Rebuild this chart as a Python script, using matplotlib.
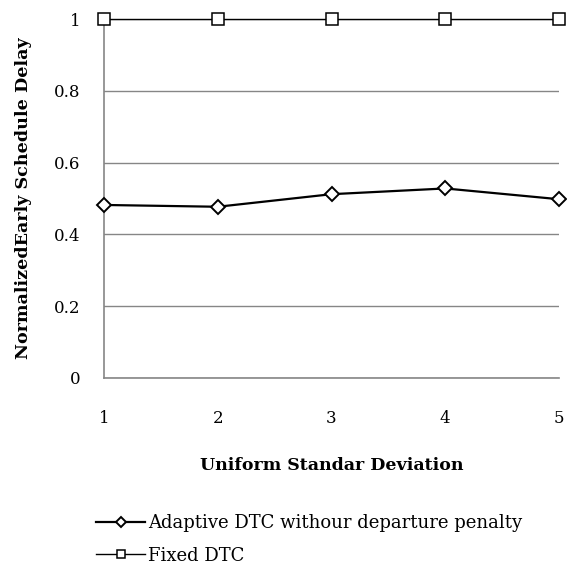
import matplotlib.pyplot as plt
import numpy as np

plt.rcParams['font.family'] = ['DejaVu Serif']

x_vals = [1, 2, 3, 4, 5]
adaptive = [0.482, 0.477, 0.512, 0.528, 0.498]
fixed = [1.0, 1.0, 1.0, 1.0, 1.0]
y_ticks = [0, 0.2, 0.4, 0.6, 0.8, 1]
y_tick_labels = ['0', '0.2', '0.4', '0.6', '0.8', '1']

fig = plt.figure(figsize=(5.67, 5.74), dpi=100)
ax = fig.add_axes([104 / 567, 1 - 378 / 574, (559 - 104) / 567, (378 - 19) / 574])

ax.set_xlim(1, 5)
ax.set_ylim(0, 1)
ax.set_yticks(y_ticks)
ax.set_yticklabels(y_tick_labels)
ax.set_xticks(x_vals)
ax.grid(axis='y', color='#868686', lw=1)
ax.set_axisbelow(True)
for s in ['top', 'right']:
    ax.spines[s].set_visible(False)
for s in ['left', 'bottom']:
    ax.spines[s].set_color('#868686')
    ax.spines[s].set_linewidth(1.2)
ax.tick_params(length=0, labelsize=12)
ax.tick_params(axis='x', pad=23)
ax.tick_params(axis='y', pad=17)

ax.plot(x_vals, adaptive, color='black', lw=1.6, marker='D', ms=7.5,
        mfc='white', mec='black', mew=1.4, clip_on=False, zorder=5,
        label='Adaptive DTC withour departure penalty')
ax.plot(x_vals, fixed, color='black', lw=1.0, marker='s', ms=8,
        mfc='white', mec='black', mew=1.1, clip_on=False, zorder=5,
        label='Fixed DTC')

ax.set_xlabel('Uniform Standar Deviation', fontsize=12.5, fontweight='bold', labelpad=22)
ax.set_ylabel('NormalizedEarly Schedule Delay', fontsize=12.6, fontweight='bold', labelpad=16)

fig.legend(loc='upper left', bbox_to_anchor=(80 / 567, 1 - 498 / 574), frameon=False,
           fontsize=13, handlelength=2.7, handletextpad=0.15, labelspacing=0.8,
           markerscale=0.7)

fig.savefig('out.png', dpi=100)
